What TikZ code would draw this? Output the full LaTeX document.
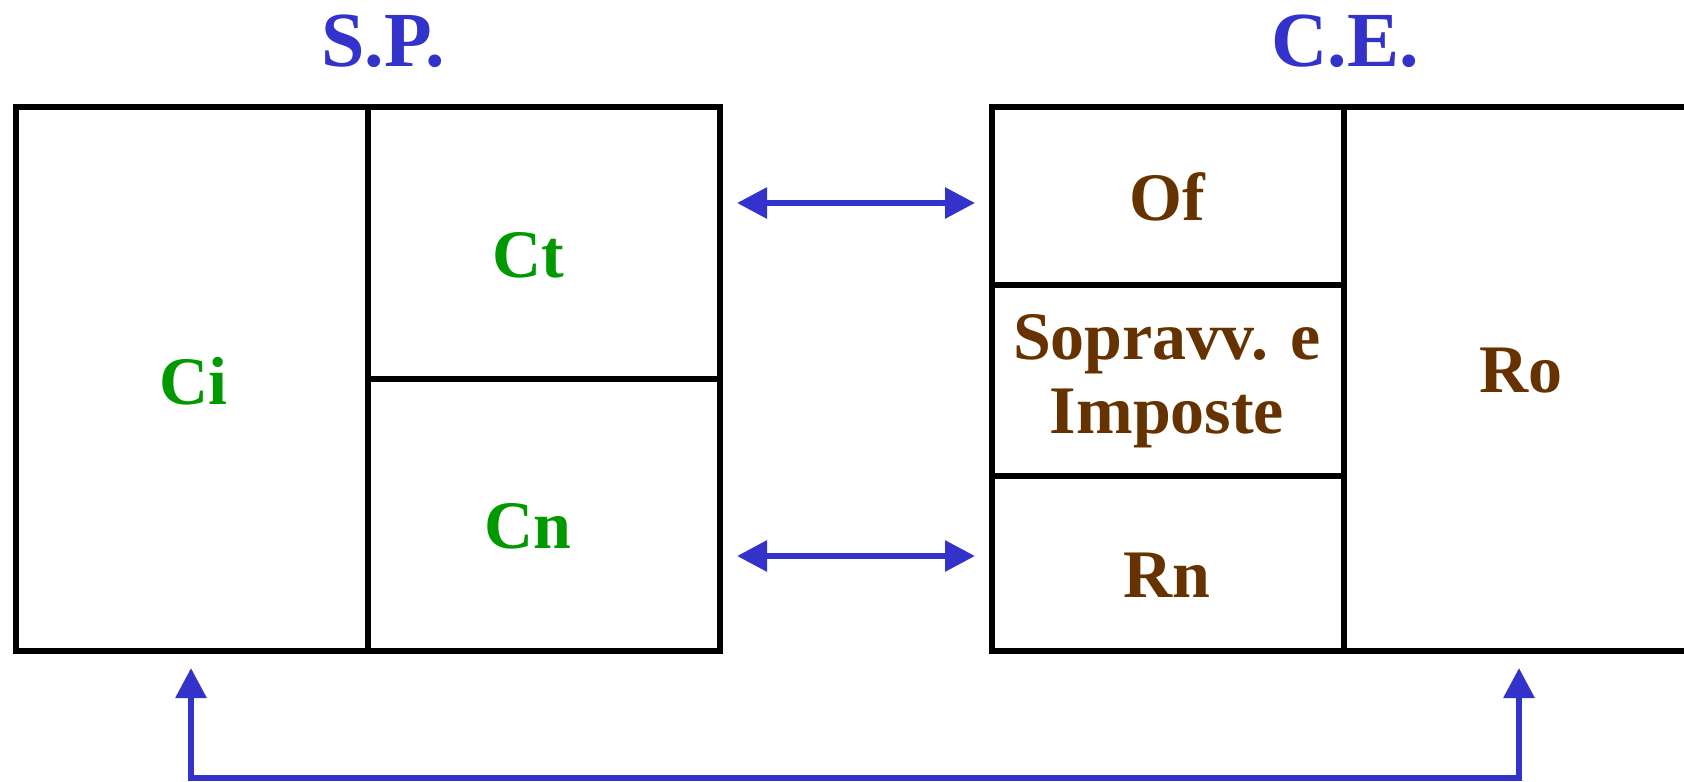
\documentclass[tikz,border=0pt]{standalone}
\usepackage{fontspec}
\setmainfont{Liberation Serif}
\usetikzlibrary{arrows.meta}
\definecolor{spblue}{HTML}{3333CC}
\definecolor{cgreen}{HTML}{009900}
\definecolor{rbrown}{HTML}{663300}
\begin{document}
\begin{tikzpicture}[x=0.5pt,y=-0.5pt,
  cellline/.style={line width=3pt,black},
  link/.style={line width=3pt,spblue,{Triangle[length=15pt,width=15pt]}-{Triangle[length=15pt,width=15pt]}},
  title/.style={font=\fontsize{39}{42}\selectfont\bfseries,text=spblue},
  att/.style={font=\fontsize{34}{36}\selectfont\bfseries,text=cgreen},
  pas/.style={font=\fontsize{34}{37}\selectfont\bfseries,text=rbrown,align=center}]
  \useasboundingbox (0,0) rectangle (1684,781);
  \clip (0,0) rectangle (1684,781);
  % titoli
  \node[title] (sp) at (383,41) {S.P.};
  \node[title] (ce) at (1345,41) {C.E.};
  % stato patrimoniale
  \draw[cellline] (16,107) rectangle (720,651);
  \draw[cellline] (368,107) -- (368,651);
  \draw[cellline] (368,379) -- (720,379);
  \node[att] (ci) at (193,381) {Ci};
  \node[att] (ct) at (528,255) {Ct};
  \node[att] (cn) at (528,526) {Cn};
  % conto economico (bordo destro fuori pagina)
  \draw[cellline] (992,107) rectangle (1720,651);
  \draw[cellline] (1344,107) -- (1344,651);
  \draw[cellline] (992,285) -- (1344,285);
  \draw[cellline] (992,476) -- (1344,476);
  \node[pas] (of) at (1167,197) {Of};
  \node[pas] (si) at (1167,381) {Sopravv. e\\Imposte};
  \node[pas] (rn) at (1167,575) {Rn};
  \node[pas] (ro) at (1521,371) {Ro};
  % collegamenti
  \coordinate (ctA) at (737,203);
  \coordinate (ofA) at (975,203);
  \coordinate (cnA) at (737,556);
  \coordinate (rnA) at (975,556);
  \coordinate (ciA) at (191,668);
  \coordinate (roA) at (1519,668);
  \coordinate (ciB) at (191,778);
  \coordinate (roB) at (1519,778);
  \draw[link] (ctA) -- (ofA);
  \draw[link] (cnA) -- (rnA);
  \draw[link] (ciA) -- (ciB) -- (roB) -- (roA);
\end{tikzpicture}
\end{document}
